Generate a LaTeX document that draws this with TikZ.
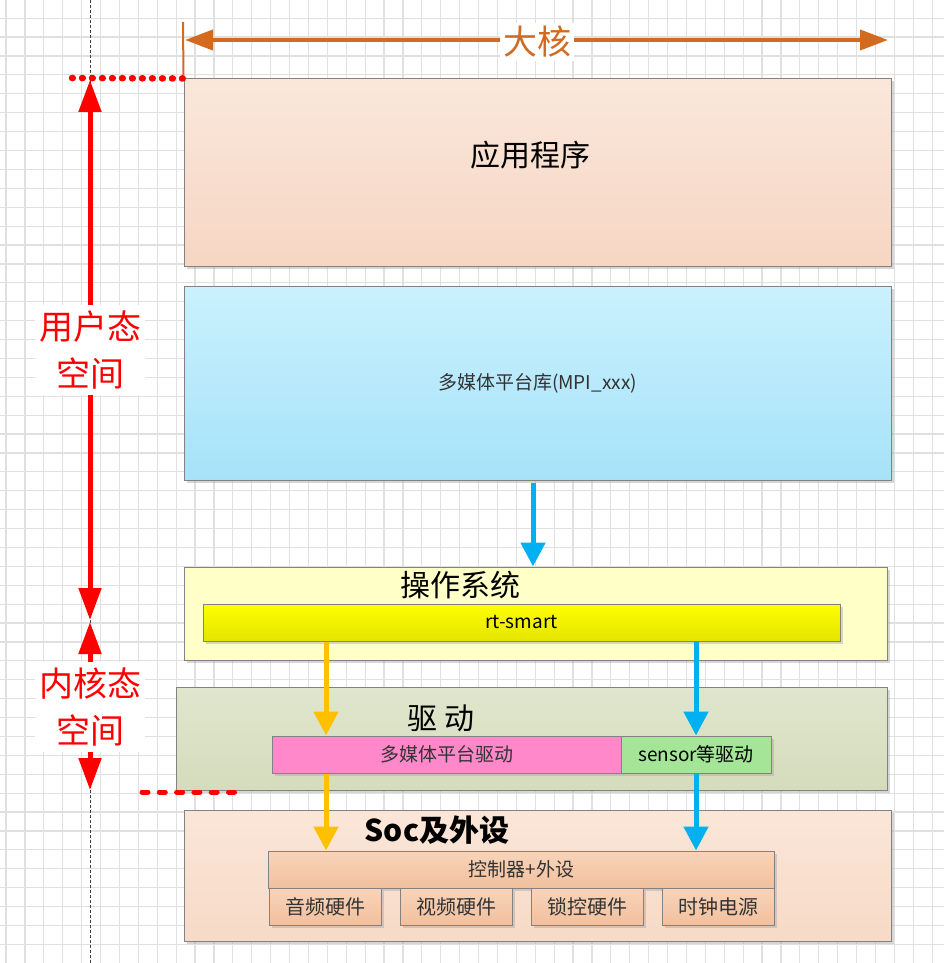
\documentclass[tikz,border=0pt]{standalone}
\usepackage{fontspec}
\setmainfont{Noto Sans CJK SC}
\usetikzlibrary{arrows.meta,shadows}

\definecolor{coreorange}{RGB}{210,106,32}
\definecolor{flowblue}{RGB}{0,176,240}
\definecolor{flowgold}{RGB}{255,192,0}
\definecolor{gridgray}{RGB}{224,224,224}
\definecolor{boxline}{RGB}{130,130,130}

\newcommand{\titlefont}{\fontsize{30}{36}\selectfont}
\newcommand{\boxfont}{\fontsize{19}{23}\selectfont}
\newcommand{\hwfont}{\fontsize{20}{24}\selectfont}
\newcommand{\sidefont}{\fontsize{34}{47}\selectfont}

\tikzset{
  gridline/.style = {gridgray, line width=1.2pt},
  layer/.style = {draw=boxline, line width=1pt, inner sep=0pt,
    drop shadow={shadow xshift=2.5pt, shadow yshift=-2.5pt, fill=black!35, opacity=0.45}},
  part/.style = {layer, text=black!80, font=\boxfont},
  hwpart/.style = {part, font=\hwfont, minimum width=112pt, minimum height=37pt,
    top color={rgb,255:red,248;green,212;blue,186}, bottom color={rgb,255:red,241;green,192;blue,158}},
  title/.style = {inner sep=0pt, font=\titlefont},
  flow/.style = {line width=5pt, -{Triangle[length=24pt,width=24pt]}},
  spacearrow/.style = {red, line width=5pt,
    {Triangle[length=32pt,width=22pt]}-{Triangle[length=32pt,width=22pt]}},
  spacelabel/.style = {fill=white, text=red, font=\sidefont, align=center,
    inner xsep=4pt, inner ysep=6pt},
  redlimit/.style = {red, line width=6.5pt, line cap=round}
}

\begin{document}
\begin{tikzpicture}[x=1pt, y=-1pt]
\useasboundingbox (0,0) rectangle (944,963);
\fill[white] (0,0) rectangle (944,963);
% background grid
\foreach \i in {0,...,49}
  \draw[gridline] ({6+18.9*\i},0) -- ({6+18.9*\i},963);
\foreach \j in {0,...,51}
  \draw[gridline] (0,{-0.7+18.9*\j}) -- (944,{-0.7+18.9*\j});
\draw[black!75, line width=0.8pt, dash pattern=on 3pt off 2pt] (90,0) -- (90,963);

% layers
\node[layer, top color={rgb,255:red,250;green,231;blue,219}, bottom color={rgb,255:red,246;green,214;blue,195},
  minimum width=707pt, minimum height=187pt] at (537.5,172.5) (app) {};
\node[title] at (530,155) (appname) {应用程序};
\node[part, top color={rgb,255:red,202;green,241;blue,253}, bottom color={rgb,255:red,166;green,226;blue,249},
  minimum width=707pt, minimum height=194pt] at (537.5,383) (mpi) {多媒体平台库(MPI\_xxx)};
\node[layer, fill={rgb,255:red,255;green,255;blue,200},
  minimum width=703pt, minimum height=93pt] at (535.5,613.5) (os) {};
\node[title] at (460,585) (osname) {操作系统};
\node[part, top color={rgb,255:red,255;green,255;blue,0}, bottom color={rgb,255:red,228;green,228;blue,0},
  text=black, minimum width=637pt, minimum height=37pt] at (521.5,622.5) (rt) {rt-smart};
\node[layer, top color={rgb,255:red,224;green,230;blue,205}, bottom color={rgb,255:red,212;green,220;blue,188},
  minimum width=711pt, minimum height=103pt] at (531.5,738.5) (drv) {};
\node[title] at (441,718) (drvname) {驱~动};
\node[part, fill={rgb,255:red,255;green,136;blue,202},
  minimum width=349pt, minimum height=37pt] at (446.5,754.5) (mmdrv) {多媒体平台驱动};
\node[part, fill={rgb,255:red,164;green,229;blue,152}, text=black,
  minimum width=150pt, minimum height=37pt] at (696,754.5) (sensor) {sensor等驱动};
\node[layer, top color={rgb,255:red,250;green,230;blue,216}, bottom color={rgb,255:red,247;green,218;blue,199},
  minimum width=707pt, minimum height=131pt] at (537.5,875.5) (soc) {};
\node[title, font=\titlefont\bfseries] at (437,830) (socname) {Soc及外设};
\node[part, top color={rgb,255:red,248;green,212;blue,186}, bottom color={rgb,255:red,241;green,192;blue,158},
  minimum width=506pt, minimum height=37pt] at (521.5,869.5) (ctrl) {控制器+外设};
\node[hwpart] at (325,906.5) (audio) {音频硬件};
\node[hwpart] at (456,906.5) (video) {视频硬件};
\node[hwpart] at (587,906.5) (lock) {锁控硬件};
\node[hwpart] at (718,906.5) (clock) {时钟电源};

% data flow
\coordinate (lane1) at (326,0);
\coordinate (lane2) at (696,0);
\coordinate (lane0) at (533,0);
\draw[flow, flowblue] (mpi.south -| lane0) ++(0,2) -- (os.north -| lane0);
\draw[flow, flowgold] (rt.south -| lane1) -- (mmdrv.north -| lane1);
\draw[flow, flowblue] (rt.south -| lane2) -- (sensor.north -| lane2);
\draw[flow, flowgold] (mmdrv.south -| lane1) -- (ctrl.north -| lane1);
\draw[flow, flowblue] (sensor.south -| lane2) -- (ctrl.north -| lane2);

% big core width
\coordinate (coreL) at (185,40);
\coordinate (coreR) at (888,40);
\draw[coreorange, line width=2pt] (183,22) -- (app.north west);
\draw[coreorange, line width=4pt, {Triangle[length=28pt,width=20pt]}-{Triangle[length=28pt,width=20pt]}] (coreL) -- (coreR);
\node[fill=white, text=coreorange, font=\fontsize{34}{40}\selectfont, inner sep=3pt] at (537,42) (core) {大核};

% user / kernel space
\coordinate (ustart) at (90,80);
\coordinate (umid) at (90,620);
\coordinate (kmid) at (90,622);
\coordinate (kend) at (90,790);
\draw[redlimit, dash pattern=on 0.8pt off 9.2pt] (72,78) -- (app.north west);
\draw[redlimit, line width=5pt, dash pattern=on 6pt off 11.3pt] (142,792) -- (240,792);
\draw[spacearrow] (ustart) -- (umid);
\draw[spacearrow] (kmid) -- (kend);
\node[spacelabel] at (90,350) (userspace) {用户态\\空间};
\node[spacelabel] at (90,707) (kernelspace) {内核态\\空间};
\end{tikzpicture}
\end{document}
